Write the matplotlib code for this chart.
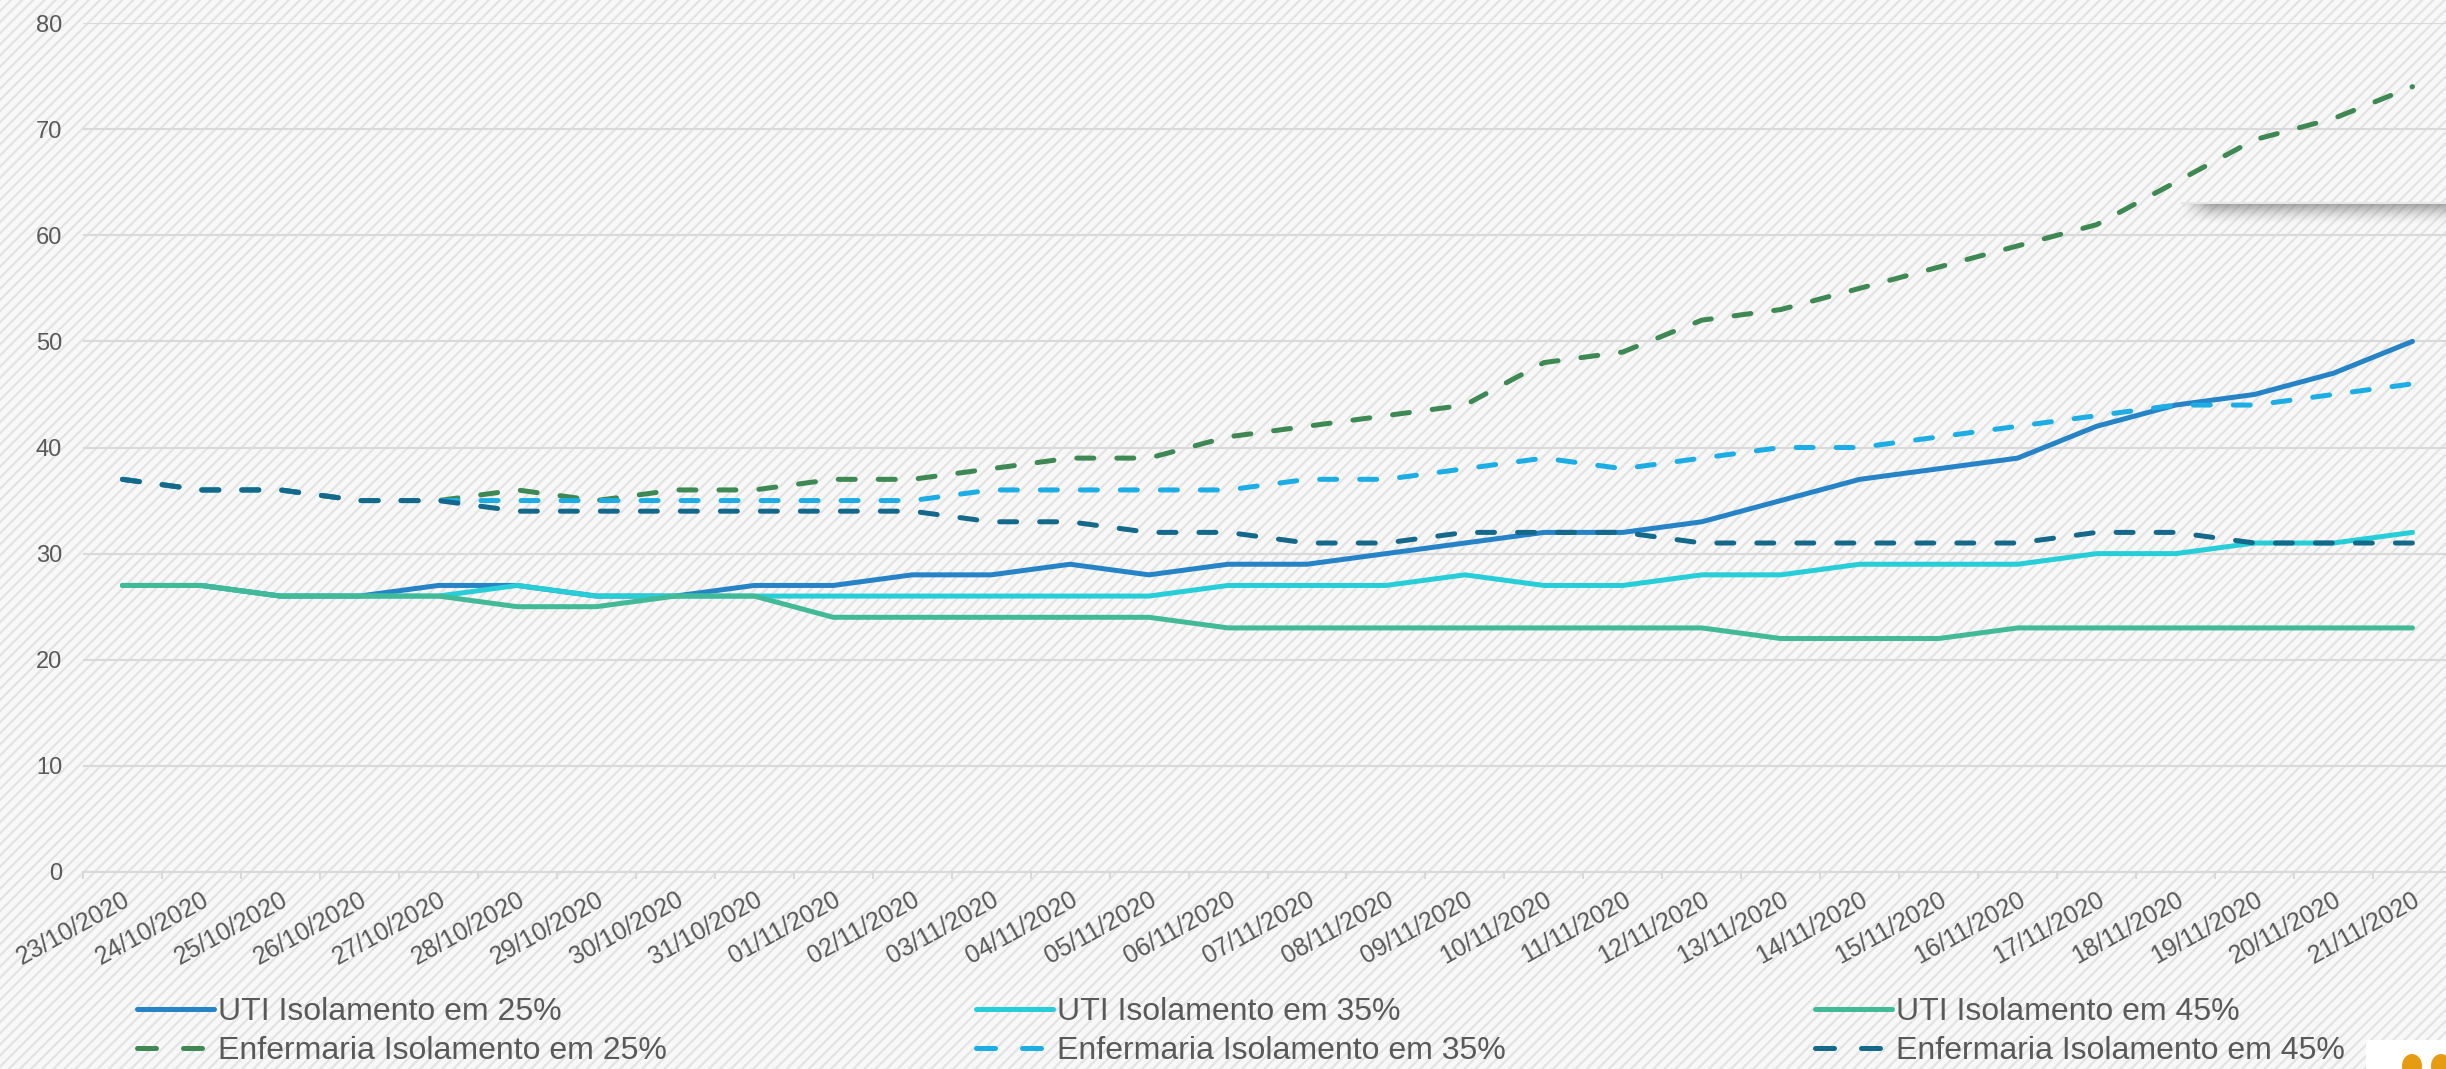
"""Leitos UTI / Enfermaria por cenário de isolamento (23/10 a 21/11/2020)."""

import numpy as np
import matplotlib.pyplot as plt
from matplotlib.patches import Rectangle, Ellipse
from matplotlib.lines import Line2D

plt.rcParams.update({
    "font.family": ["Liberation Sans", "DejaVu Sans"],
    "hatch.linewidth": 1.6,
})

# dados
dates = ["23/10/2020", "24/10/2020", "25/10/2020", "26/10/2020", "27/10/2020",
         "28/10/2020", "29/10/2020", "30/10/2020", "31/10/2020", "01/11/2020",
         "02/11/2020", "03/11/2020", "04/11/2020", "05/11/2020", "06/11/2020",
         "07/11/2020", "08/11/2020", "09/11/2020", "10/11/2020", "11/11/2020",
         "12/11/2020", "13/11/2020", "14/11/2020", "15/11/2020", "16/11/2020",
         "17/11/2020", "18/11/2020", "19/11/2020", "20/11/2020", "21/11/2020"]

uti_25 = [27, 27, 26, 26, 27, 27, 26, 26, 27, 27, 28, 28, 29, 28, 29,
          29, 30, 31, 32, 32, 33, 35, 37, 38, 39, 42, 44, 45, 47, 50]
uti_35 = [27, 27, 26, 26, 26, 27, 26, 26, 26, 26, 26, 26, 26, 26, 27,
          27, 27, 28, 27, 27, 28, 28, 29, 29, 29, 30, 30, 31, 31, 32]
uti_45 = [27, 27, 26, 26, 26, 25, 25, 26, 26, 24, 24, 24, 24, 24, 23,
          23, 23, 23, 23, 23, 23, 22, 22, 22, 23, 23, 23, 23, 23, 23]
enf_25 = [37, 36, 36, 35, 35, 36, 35, 36, 36, 37, 37, 38, 39, 39, 41,
          42, 43, 44, 48, 49, 52, 53, 55, 57, 59, 61, 65, 69, 71, 74]
enf_35 = [37, 36, 36, 35, 35, 35, 35, 35, 35, 35, 35, 36, 36, 36, 36,
          37, 37, 38, 39, 38, 39, 40, 40, 41, 42, 43, 44, 44, 45, 46]
enf_45 = [37, 36, 36, 35, 35, 34, 34, 34, 34, 34, 34, 33, 33, 32, 32,
          31, 31, 32, 32, 32, 31, 31, 31, 31, 31, 32, 32, 31, 31, 31]

labels = ["UTI Isolamento em 25%", "UTI Isolamento em 35%", "UTI Isolamento em 45%",
          "Enfermaria Isolamento em 25%", "Enfermaria Isolamento em 35%",
          "Enfermaria Isolamento em 45%"]

W, H = 2446, 1069
fig = plt.figure(figsize=(W / 100, H / 100), dpi=100)

# fundo listrado
fig.add_artist(Rectangle((0, 0), 1, 1, transform=fig.transFigure, facecolor="#f8f8f8",
                         edgecolor="#e3e3e3", hatch="///", linewidth=0, zorder=-10))

ax = fig.add_axes([83 / W, 1 - 872 / H, (2452 - 83) / W, 849 / H])
ax.set_facecolor("none")

x = np.arange(len(dates))
dash = (0, (3.4, 4.6))
series = [
    (uti_25, "#2683C6", "-"),
    (uti_35, "#27CED7", "-"),
    (uti_45, "#42BA97", "-"),
    (enf_25, "#3E8853", dash),
    (enf_35, "#1CADE4", dash),
    (enf_45, "#14698A", dash),
]
handles = []
for (vals, color, ls), lab in zip(series, labels):
    ax.plot(x, vals, color=color, lw=3.6, ls=ls, label=lab,
            solid_capstyle="round", dash_capstyle="round", solid_joinstyle="round")
    # handle da legenda: duas pontas no tracejado, como no original
    hls = (0, (3.8, 5.4)) if ls != "-" else "-"
    handles.append(Line2D([], [], color=color, lw=3.6, ls=hls,
                          solid_capstyle="round", dash_capstyle="round"))

ax.set_xlim(-0.5, len(dates) - 0.5)
ax.set_ylim(0, 80)
ax.set_yticks(range(0, 81, 10))
ax.yaxis.grid(True, color="#d9d9d9", lw=1.5)
ax.set_axisbelow(True)
for s in ["top", "right", "left"]:
    ax.spines[s].set_visible(False)
ax.spines["bottom"].set_color("#d9d9d9")
ax.spines["bottom"].set_linewidth(1.5)

ax.set_xticks(x)
ax.set_xticklabels(dates, rotation=29, ha="right", va="top", rotation_mode="anchor",
                   fontsize=18, color="#595959")
ax.set_xticks(np.arange(-0.5, len(dates), 1), minor=True)
ax.tick_params(axis="x", which="major", length=0, pad=11)
ax.tick_params(axis="x", which="minor", length=5, width=1.5, color="#d9d9d9")
ax.tick_params(axis="y", length=0, pad=15, labelsize=17, labelcolor="#595959")

# legenda: linha 1 UTI, linha 2 Enfermaria
order = [0, 3, 1, 4, 2, 5]
fig.legend([handles[i] for i in order], [labels[i] for i in order], ncol=3,
           loc="center left", bbox_to_anchor=(137 / W, 1 - 1031.5 / H),
           frameon=False, fontsize=23, labelcolor="#595959", handlelength=2.4,
           handletextpad=0.12, columnspacing=9.7, labelspacing=0.3,
           borderpad=0, borderaxespad=0)

# barra com sombra no canto superior direito
sx0, sy, sh_h = 2182, 203, 22
sh = fig.add_axes([sx0 / W, 1 - (sy + sh_h) / H, (W - sx0) / W, sh_h / H])
sh.axis("off")
ty = np.linspace(0, 1, sh_h)[:, None]
tx = np.arange(W - sx0)[None, :]
alpha = 0.55 * (1 - ty) ** 1.6 * np.clip(tx / 28.0, 0, 1)
img = np.zeros((sh_h, W - sx0, 4))
img[..., :3] = 0.35
img[..., 3] = alpha
sh.imshow(img, aspect="auto", interpolation="bilinear")
fig.add_artist(Line2D([sx0 / W, 1], [1 - sy / H] * 2, color="#e6e6e6", lw=1.5,
                      transform=fig.transFigure))

# pedaço do logotipo no canto inferior direito
fig.add_artist(Rectangle((2366 / W, 0), (W - 2366) / W, (H - 1040) / H,
                         transform=fig.transFigure, facecolor="white", linewidth=0))
for cx in (2412, 2441):
    fig.add_artist(Ellipse((cx / W, 1 - 1066 / H), 20 / W, 24 / H,
                           transform=fig.transFigure, facecolor="#e59b12", linewidth=0))

fig.savefig("out.png", dpi=100)
